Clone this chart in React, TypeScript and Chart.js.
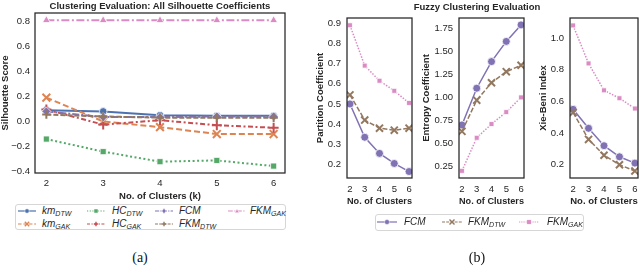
import React, { useEffect, useRef } from 'react';
import { Chart, registerables } from 'chart.js';
Chart.register(...registerables);

// ---------- data ----------
const clusters = [2, 3, 4, 5, 6];

// (a) silhouette coefficients
const silTicks = [-0.4, -0.2, 0, 0.2, 0.4, 0.6, 0.8];
const kmDTW = [0.09, 0.08, 0.05, 0.045, 0.045];
const kmGAK = [0.19, 0.0, -0.045, -0.1, -0.1];
const hcDTW = [-0.14, -0.24, -0.32, -0.31, -0.355];
const hcGAK = [0.095, -0.025, 0.01, -0.03, -0.05];
const fcmSil = [0.08, 0.035, 0.035, 0.04, 0.04];
const fkmDtwSil = [0.055, 0.04, 0.03, 0.03, 0.03];
const fkmGakSil = [0.805, 0.805, 0.805, 0.805, 0.805];

// (b) fuzzy evaluation
const pcTicks = [0.2, 0.3, 0.4, 0.5, 0.6, 0.7, 0.8, 0.9];
const pcFCM = [0.5, 0.335, 0.255, 0.205, 0.165];
const pcFkmDTW = [0.545, 0.42, 0.38, 0.37, 0.38];
const pcFkmGAK = [0.89, 0.69, 0.615, 0.565, 0.505];

const ecTicks = [0.25, 0.5, 0.75, 1.0, 1.25, 1.5, 1.75];
const ecFCM = [0.7, 1.1, 1.39, 1.61, 1.79];
const ecFkmDTW = [0.63, 0.97, 1.16, 1.28, 1.35];
const ecFkmGAK = [0.2, 0.56, 0.71, 0.84, 1.0];

const xbTicks = [0.2, 0.4, 0.6, 0.8, 1.0];
const xbFCM = [0.55, 0.43, 0.32, 0.25, 0.21];
const xbFkmDTW = [0.53, 0.36, 0.26, 0.2, 0.16];
const xbFkmGAK = [1.08, 0.84, 0.67, 0.62, 0.555];

// ---------- style ----------
const C = {
  blue: '#4C72B0', orange: '#DD8452', green: '#55A868', red: '#C44E52',
  purple: '#8172B3', brown: '#937860', pink: '#DA8BC3',
};
const FONT = "'Liberation Sans', Arial, sans-serif";
const INK = '#262626';

type Mk = 'circle' | 'crossRot' | 'rect' | 'cross' | 'rectRot' | 'triangle';
interface SeriesStyle { color: string; dash: number[]; marker: Mk; r: number; lw: number; }

const S_A: Record<string, SeriesStyle> = {
  kmDTW: { color: C.blue, dash: [], marker: 'circle', r: 3.8, lw: 2 },
  kmGAK: { color: C.orange, dash: [6, 3], marker: 'crossRot', r: 5.5, lw: 2 },
  hcDTW: { color: C.green, dash: [2, 2.5], marker: 'rect', r: 4.3, lw: 2 },
  hcGAK: { color: C.red, dash: [5, 2.5, 2, 2.5], marker: 'cross', r: 5, lw: 2 },
  fcm: { color: C.purple, dash: [7, 2, 2, 2], marker: 'rectRot', r: 4.5, lw: 2 },
  fkmDtw: { color: C.brown, dash: [5, 2], marker: 'cross', r: 4.2, lw: 2 },
  fkmGak: { color: C.pink, dash: [8, 2.5, 2, 2.5], marker: 'triangle', r: 4.5, lw: 2 },
};
const S_B: Record<string, SeriesStyle> = {
  fcm: { color: C.purple, dash: [], marker: 'circle', r: 4, lw: 1.5 },
  fkmDtw: { color: C.brown, dash: [5, 2], marker: 'crossRot', r: 5, lw: 1.5 },
  fkmGak: { color: C.pink, dash: [1.5, 1.5], marker: 'rect', r: 3.5, lw: 1.5 },
};

const isOpen = (m: Mk) => m === 'cross' || m === 'crossRot';

function ds(label: string, values: number[], st: SeriesStyle, order: number) {
  return {
    label,
    data: clusters.map((x, i) => ({ x, y: values[i] })),
    borderColor: st.color,
    backgroundColor: st.color,
    borderWidth: st.lw,
    borderDash: st.dash,
    pointStyle: st.marker,
    pointRadius: st.r,
    pointBackgroundColor: st.color,
    pointBorderColor: isOpen(st.marker) ? st.color : '#ffffff',
    pointBorderWidth: isOpen(st.marker) ? 2 : 0.8,
    tension: 0,
    order,
  };
}

const frame = {
  id: 'frame',
  afterDraw(chart: any) {
    const { ctx, chartArea: a } = chart;
    ctx.save();
    ctx.strokeStyle = INK;
    ctx.lineWidth = 1.25;
    ctx.strokeRect(a.left, a.top, a.right - a.left, a.bottom - a.top);
    ctx.restore();
  },
};

interface PanelCfg {
  datasets: any[];
  yMin: number; yMax: number; yTicks: number[]; yDigits: number;
  yTitle: string; xTitle: string;
  axisW: number; yTitlePad: number; xAxisH: number; xTickPad: number; yTickPad: number;
  padding: { top: number; right: number; left: number; bottom: number };
}

function buildChart(canvas: HTMLCanvasElement, p: PanelCfg) {
  return new Chart(canvas, {
    type: 'line',
    data: { datasets: p.datasets },
    plugins: [frame],
    options: {
      animation: false,
      responsive: false,
      maintainAspectRatio: false,
      layout: { padding: p.padding },
      plugins: { legend: { display: false }, tooltip: { enabled: false }, title: { display: false } },
      scales: {
        x: {
          type: 'linear', min: 1.8, max: 6.2,
          grid: { display: false, drawTicks: false },
          border: { display: false },
          afterBuildTicks: (s: any) => { s.ticks = clusters.map((v) => ({ value: v })); },
          afterFit: (s: any) => { s.height = p.xAxisH; },
          ticks: { color: INK, padding: p.xTickPad, font: { family: FONT, size: 9.5 }, maxRotation: 0, autoSkip: false,
            callback: (v: any) => String(v) },
          title: { display: true, text: p.xTitle, color: INK, padding: 0, font: { family: FONT, size: 9.5, weight: 'bold' } },
        },
        y: {
          type: 'linear', min: p.yMin, max: p.yMax,
          grid: { display: false, drawTicks: false },
          border: { display: false },
          afterBuildTicks: (s: any) => { s.ticks = p.yTicks.map((v) => ({ value: v })); },
          afterFit: (s: any) => { s.width = p.axisW; },
          ticks: { color: INK, padding: p.yTickPad, font: { family: FONT, size: 9.5 }, autoSkip: false,
            callback: (v: any) => Number(v).toFixed(p.yDigits).replace('-', '\u2212') },
          title: { display: true, text: p.yTitle, color: INK, padding: { top: p.yTitlePad, bottom: 0 }, font: { family: FONT, size: 9.5, weight: 'bold' } },
        },
      },
    } as any,
  });
}

// ---------- legend icons ----------
function MarkerSvg({ m, color, cx, cy, r }: { m: Mk; color: string; cx: number; cy: number; r: number }) {
  switch (m) {
    case 'circle':
      return <circle cx={cx} cy={cy} r={r} fill={color} stroke="#fff" strokeWidth={0.5} />;
    case 'rect':
      return <rect x={cx - r} y={cy - r} width={2 * r} height={2 * r} fill={color} stroke="#fff" strokeWidth={0.5} />;
    case 'rectRot':
      return <polygon points={`${cx},${cy - r * 1.2} ${cx + r},${cy} ${cx},${cy + r * 1.2} ${cx - r},${cy}`} fill={color} stroke="#fff" strokeWidth={0.5} />;
    case 'triangle':
      return <polygon points={`${cx},${cy - r} ${cx + r},${cy + r * 0.8} ${cx - r},${cy + r * 0.8}`} fill={color} stroke="#fff" strokeWidth={0.5} />;
    case 'cross':
      return (<g stroke={color} strokeWidth={1.4}><line x1={cx - r} y1={cy} x2={cx + r} y2={cy} /><line x1={cx} y1={cy - r} x2={cx} y2={cy + r} /></g>);
    case 'crossRot':
      return (<g stroke={color} strokeWidth={1.4}><line x1={cx - r} y1={cy - r} x2={cx + r} y2={cy + r} /><line x1={cx - r} y1={cy + r} x2={cx + r} y2={cy - r} /></g>);
  }
  return null;
}

function LegendItem({ x, y, len, st, main, sub, textX, mr }: { x: number; y: number; len: number; st: SeriesStyle; main: string; sub?: string; textX: number; mr: number }) {
  return (
    <>
      <svg style={{ position: 'absolute', left: x, top: y - 5 }} width={len} height={10}>
        <line x1={0} y1={5} x2={len} y2={5} stroke={st.color} strokeWidth={1.2}
          strokeDasharray={st.dash.length ? st.dash.map((d) => d * 0.6).join(' ') : undefined} />
        <MarkerSvg m={st.marker} color={st.color} cx={len / 2} cy={5} r={mr} />
      </svg>
      <div style={{ position: 'absolute', left: textX, top: y - 7, fontFamily: FONT, fontSize: 10, fontStyle: 'italic', color: INK, lineHeight: '13px', whiteSpace: 'nowrap' }}>
        {main}
        {sub ? <span style={{ fontSize: 7, position: 'relative', top: 2 }}>{sub}</span> : null}
      </div>
    </>
  );
}

export default function App() {
  const refA = useRef<HTMLCanvasElement>(null);
  const ref1 = useRef<HTMLCanvasElement>(null);
  const ref2 = useRef<HTMLCanvasElement>(null);
  const ref3 = useRef<HTMLCanvasElement>(null);

  useEffect(() => {
    const charts: Chart[] = [];
    const n = 7;
    charts.push(buildChart(refA.current!, {
      datasets: [
        ds('km_DTW', kmDTW, S_A.kmDTW, n - 0),
        ds('km_GAK', kmGAK, S_A.kmGAK, n - 1),
        ds('HC_DTW', hcDTW, S_A.hcDTW, n - 2),
        ds('HC_GAK', hcGAK, S_A.hcGAK, n - 3),
        ds('FCM', fcmSil, S_A.fcm, n - 4),
        ds('FKM_DTW', fkmDtwSil, S_A.fkmDtw, n - 5),
        ds('FKM_GAK', fkmGakSil, S_A.fkmGak, n - 6),
      ],
      yMin: -0.41, yMax: 0.863, yTicks: silTicks, yDigits: 1,
      yTitle: 'Silhouette Score', xTitle: 'No. of Clusters (k)',
      axisW: 35, yTitlePad: 0, xAxisH: 29, xTickPad: 5, yTickPad: 5,
      padding: { top: 13, right: 15, left: 0, bottom: 0 },
    }));
    const bsets = (a: number[], b: number[], c: number[]) => [
      ds('FCM', a, S_B.fcm, 3), ds('FKM_DTW', b, S_B.fkmDtw, 2), ds('FKM_GAK', c, S_B.fkmGak, 1),
    ];
    charts.push(buildChart(ref1.current!, {
      datasets: bsets(pcFCM, pcFkmDTW, pcFkmGAK),
      yMin: 0.133, yMax: 0.926, yTicks: pcTicks, yDigits: 1,
      yTitle: 'Partition Coefficient', xTitle: 'No. of Clusters',
      axisW: 35, yTitlePad: 2.3, xAxisH: 29, xTickPad: 6, yTickPad: 6,
      padding: { top: 18, right: 2, left: 0, bottom: 0 },
    }));
    charts.push(buildChart(ref2.current!, {
      datasets: bsets(ecFCM, ecFkmDTW, ecFkmGAK),
      yMin: 0.122, yMax: 1.865, yTicks: ecTicks, yDigits: 2,
      yTitle: 'Entropy Coefficient', xTitle: 'No. of Clusters',
      axisW: 42, yTitlePad: 3.3, xAxisH: 29, xTickPad: 6, yTickPad: 6,
      padding: { top: 18, right: 2, left: 0, bottom: 0 },
    }));
    charts.push(buildChart(ref3.current!, {
      datasets: bsets(xbFCM, xbFkmDTW, xbFkmGAK),
      yMin: 0.116, yMax: 1.127, yTicks: xbTicks, yDigits: 1,
      yTitle: 'Xie-Beni Index', xTitle: 'No. of Clusters',
      axisW: 42, yTitlePad: 9.3, xAxisH: 29, xTickPad: 6, yTickPad: 6,
      padding: { top: 18, right: 5, left: 0, bottom: 0 },
    }));
    return () => charts.forEach((c) => c.destroy());
  }, []);

  const abs = (l: number, t: number): React.CSSProperties => ({ position: 'absolute', left: l, top: t });

  return (
    <div style={{ position: 'fixed', left: 0, top: 0, width: 640, height: 271, overflow: 'hidden', background: '#fff' }}>
      <canvas ref={refA} width={300} height={202} style={{ ...abs(0, 0), width: 300, height: 202 }} />
      <canvas ref={ref1} width={107} height={207} style={{ ...abs(312, 0), width: 107, height: 207 }} />
      <canvas ref={ref2} width={114} height={207} style={{ ...abs(417, 0), width: 114, height: 207 }} />
      <canvas ref={ref3} width={117} height={207} style={{ ...abs(528, 0), width: 117, height: 207 }} />

      <div style={{ position: 'absolute', left: 0, width: 320, top: 0, textAlign: 'center', fontFamily: FONT, fontWeight: 'bold', fontSize: 9.5, color: INK, lineHeight: '12px' }}>
        Clustering Evaluation: All Silhouette Coefficients
      </div>
      <div style={{ position: 'absolute', left: 377, width: 200, top: 1, textAlign: 'center', fontFamily: FONT, fontWeight: 'bold', fontSize: 9.5, color: INK, lineHeight: '12px' }}>
        Fuzzy Clustering Evaluation
      </div>

      {/* legend (a) */}
      <div style={{ position: 'absolute', left: 15, top: 204, width: 271, height: 26, border: '1px solid #d6d6d6', borderRadius: 3, boxSizing: 'border-box' }} />
      <LegendItem x={18} y={211} len={18} st={S_A.kmDTW} main="km" sub="DTW" textX={42} mr={2.2} />
      <LegendItem x={18} y={224} len={18} st={S_A.kmGAK} main="km" sub="GAK" textX={42} mr={2.2} />
      <LegendItem x={87} y={211} len={18} st={S_A.hcDTW} main="HC" sub="DTW" textX={112} mr={2} />
      <LegendItem x={87} y={224} len={18} st={S_A.hcGAK} main="HC" sub="GAK" textX={112} mr={2.2} />
      <LegendItem x={155} y={211} len={18} st={S_A.fcm} main="FCM" textX={179} mr={2.2} />
      <LegendItem x={155} y={224} len={18} st={S_A.fkmDtw} main="FKM" sub="DTW" textX={179} mr={2.2} />
      <LegendItem x={228} y={211} len={18} st={S_A.fkmGak} main="FKM" sub="GAK" textX={250} mr={2.2} />

      {/* legend (b) */}
      <div style={{ position: 'absolute', left: 375, top: 214, width: 209, height: 17, border: '1px solid #d6d6d6', borderRadius: 3, boxSizing: 'border-box' }} />
      <LegendItem x={377} y={222} len={20} st={S_B.fcm} main="FCM" textX={404} mr={2.5} />
      <LegendItem x={442} y={222} len={20} st={S_B.fkmDtw} main="FKM" sub="DTW" textX={468} mr={2.5} />
      <LegendItem x={519} y={222} len={20} st={S_B.fkmGak} main="FKM" sub="GAK" textX={547} mr={2.2} />

      <div style={{ position: 'absolute', left: 100, width: 80, top: 249, textAlign: 'center', fontFamily: "'Liberation Serif', serif", fontSize: 14, color: '#111', lineHeight: '18px' }}>(a)</div>
      <div style={{ position: 'absolute', left: 437, width: 80, top: 249, textAlign: 'center', fontFamily: "'Liberation Serif', serif", fontSize: 14, color: '#111', lineHeight: '18px' }}>(b)</div>
    </div>
  );
}
